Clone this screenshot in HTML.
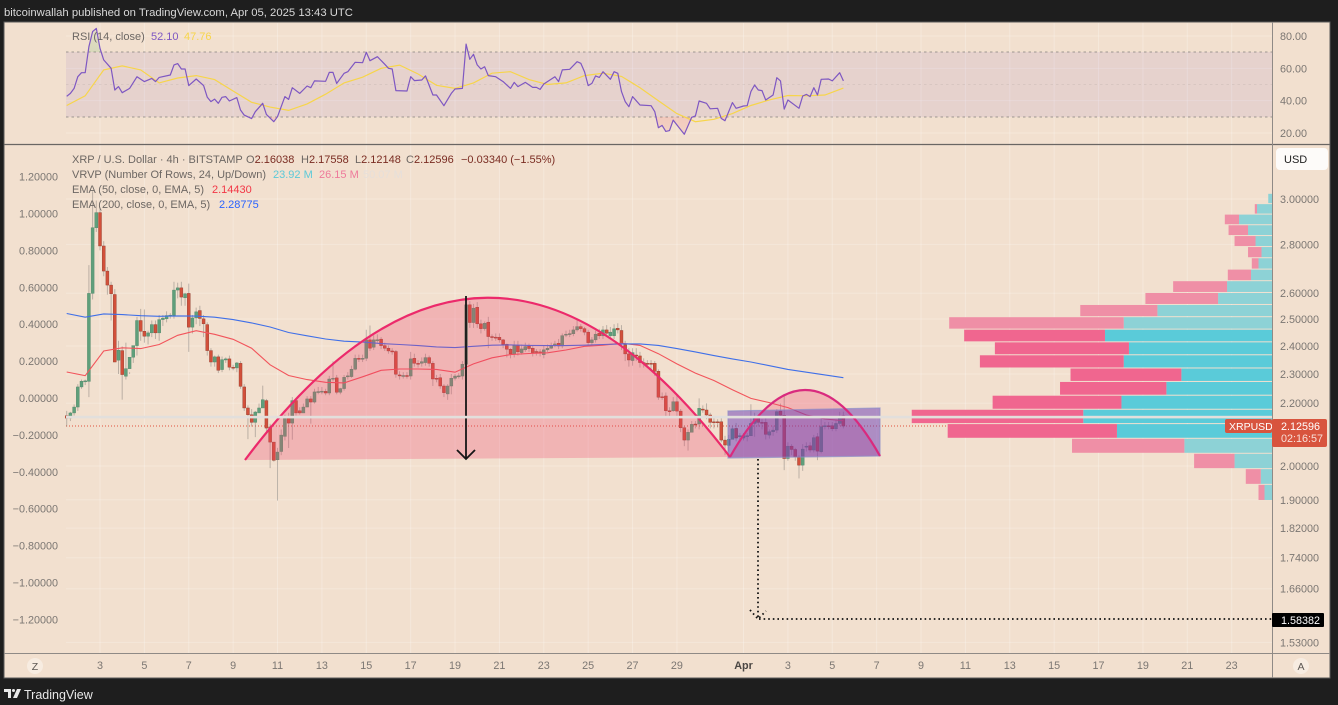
<!DOCTYPE html>
<html lang="en">
<head>
<meta charset="utf-8">
<title>XRP / U.S. Dollar chart</title>
<style>
html,body{margin:0;padding:0;background:#1e1e1e;width:1338px;height:705px;overflow:hidden}
svg{display:block;font-family:"Liberation Sans",sans-serif}
text{white-space:pre}
.lg{font-size:11px;fill:#6d6763}
.ax{font-size:10.8px;fill:#7b7672}
</style>
</head>
<body>
<svg id="root" width="1338" height="705" viewBox="0 0 1338 705" xmlns="http://www.w3.org/2000/svg">
  <defs>
    <clipPath id="clip-main"><rect x="5" y="145" width="1267" height="508"/></clipPath>
    <clipPath id="clip-rsi-top"><rect x="5" y="23" width="1267" height="29"/></clipPath>
    <clipPath id="clip-rsi-bottom"><rect x="5" y="117" width="1267" height="27"/></clipPath>
    <linearGradient id="grad-over" x1="0" y1="0" x2="0" y2="1"><stop offset="0" stop-color="#4caf50" stop-opacity=".08"/><stop offset="1" stop-color="#4caf50" stop-opacity=".4"/></linearGradient>
    <linearGradient id="grad-under" x1="0" y1="0" x2="0" y2="1"><stop offset="0" stop-color="#f23645" stop-opacity=".4"/><stop offset="1" stop-color="#f23645" stop-opacity=".08"/></linearGradient>
  </defs>
  <rect x="0" y="0" width="1338" height="705" fill="#1e1e1e"/>
  <text x="4" y="16" font-size="11.3" fill="#d8d8d8">bitcoinwallah published on TradingView.com, Apr 05, 2025 13:43 UTC</text>
  <rect x="4" y="22" width="1326" height="656" fill="#f2e0cf" stroke="#5a5a5a" stroke-width="1"/>
  <g id="grid"></g>
  <rect x="66" y="52" width="1206" height="65" fill="#7e57c2" fill-opacity=".1"/>
  <line x1="66" x2="1272" y1="52" y2="52" stroke="#8a8480" stroke-opacity=".8" stroke-dasharray="2.5 3"/>
  <line x1="66" x2="1272" y1="84.5" y2="84.5" stroke="#8a8480" stroke-opacity=".15" stroke-dasharray="2.5 3"/>
  <line x1="66" x2="1272" y1="117" y2="117" stroke="#8a8480" stroke-opacity=".8" stroke-dasharray="2.5 3"/>
  <g id="rsi-layer"></g>
  <line x1="4" x2="1330" y1="144.5" y2="144.5" stroke="#6a6663" stroke-width="1.2"/>
  <line x1="66" x2="1272" y1="426" y2="426" stroke="#e0523c" stroke-width="1" stroke-dasharray="1 2"/>
  <g id="vrvp-layer" clip-path="url(#clip-main)"></g>
  <g id="candle-layer" clip-path="url(#clip-main)"></g>
  <g id="ema-layer" clip-path="url(#clip-main)"></g>

  <path d="M245 460 Q487 137 730 457 Z" fill="#f23f6a" fill-opacity=".27"/>
  <path d="M730 457 Q805 323.5 880 456 Z" fill="#f23f6a" fill-opacity=".27"/>
  <polygon points="728,411 880,408 880,456 728,458" fill="#673ab7" fill-opacity=".5" stroke="#8f8fc8" stroke-opacity=".7" stroke-width="1.2"/>
  <path d="M245 460 Q487 137 730 457" fill="none" stroke="#ec2a6b" stroke-width="2.2"/>
  <path d="M730 457 Q805 323.5 880 456" fill="none" stroke="#d92a7e" stroke-width="2.2"/>
  <path d="M466 296V459M457 450L466 459L475 450" fill="none" stroke="#161616" stroke-width="1.8"/>
  <path d="M758 459V619H1272" fill="none" stroke="#111" stroke-width="1.8" stroke-dasharray="1.6 3"/>
  <path d="M750 610L758 619L766 611" fill="none" stroke="#111" stroke-width="1.8" stroke-dasharray="1.6 3"/>
  <rect x="66" y="415.8" width="1206" height="2.6" fill="#e2dfdc"/>

  <g id="axis-layer"></g>
  <line x1="1272.5" x2="1272.5" y1="22" y2="678" stroke="#8f8a86"/>
  <line x1="4" x2="1330" y1="653.5" y2="653.5" stroke="#8f8a86"/>

  <g>
    <text class="lg" x="72" y="40">RSI (14, close)</text>
    <text class="lg" x="151" y="40" style="fill:#7e57c2">52.10</text>
    <text class="lg" x="184" y="40" style="fill:#f7d54a">47.76</text>
  </g>
  <g>
    <text class="lg" x="72" y="163">XRP / U.S. Dollar · 4h · BITSTAMP</text>
    <text class="lg" x="246" y="163">O<tspan fill="#7a2c22">2.16038</tspan></text>
    <text class="lg" x="301" y="163">H<tspan fill="#7a2c22">2.17558</tspan></text>
    <text class="lg" x="355" y="163">L<tspan fill="#7a2c22">2.12148</tspan></text>
    <text class="lg" x="406" y="163">C<tspan fill="#7a2c22">2.12596</tspan></text>
    <text class="lg" x="461" y="163" style="fill:#7a2c22">−0.03340 (−1.55%)</text>
    <text class="lg" x="72" y="178">VRVP (Number Of Rows, 24, Up/Down)</text>
    <text class="lg" x="273" y="178" style="fill:#5cc9d8">23.92 M</text>
    <text class="lg" x="319" y="178" style="fill:#ee7a9b">26.15 M</text>
    <text class="lg" x="363" y="178" style="fill:#e6dfda">50.07 M</text>
    <text class="lg" x="72" y="193">EMA (50, close, 0, EMA, 5)</text>
    <text class="lg" x="212" y="193" style="fill:#f23645">2.14430</text>
    <text class="lg" x="72" y="208">EMA (200, close, 0, EMA, 5)</text>
    <text class="lg" x="219" y="208" style="fill:#2962ff">2.28775</text>
  </g>

  <g>
    <rect x="1276" y="148" width="52" height="22" rx="4" fill="#fdfbf9"/>
    <text x="1284" y="163" font-size="11" fill="#222">USD</text>
  </g>
  <g>
    <rect x="1225" y="419" width="47" height="14" rx="2" fill="#d8543e"/>
    <text x="1229" y="430" font-size="10.5" fill="#fff">XRPUSD</text>
    <rect x="1272" y="419" width="55" height="28" rx="2" fill="#d8543e"/>
    <text x="1281" y="430" font-size="10.8" fill="#fff">2.12596</text>
    <text x="1281" y="442" font-size="10.8" fill="#f8dfd8">02:16:57</text>
  </g>
  <g>
    <rect x="1272" y="613" width="52" height="14" rx="1" fill="#000"/>
    <text x="1281" y="624" font-size="10.8" fill="#fff">1.58382</text>
  </g>
  <g>
    <circle cx="35" cy="666" r="8" fill="#f7ece1"/>
    <text x="35" y="670" font-size="10.5" text-anchor="middle" fill="#5c5753">Z</text>
  </g>
  <g>
    <circle cx="1301" cy="666" r="8" fill="#f7ece1"/>
    <text x="1301" y="670" font-size="10.5" text-anchor="middle" fill="#5c5753">A</text>
  </g>
  <g>
    <path d="M4 689h7v9h-3v-6H4zM17 689h4l-4 9h-4z" fill="#e8e8e8"/>
    <circle cx="13.5" cy="690.5" r="1.5" fill="#e8e8e8"/>
    <text x="24" y="699" font-size="12.5" font-weight="400" fill="#e8e8e8">TradingView</text>
  </g>
</svg>
<script>
// Candle values on the left axis scale, multiplied by 1000.
const opens=[-96,-109,-81,-49,60,91,90,567,923,1005,
824,688,612,561,205,257,118,159,221,284,
420,362,335,353,398,353,425,429,447,447,
585,597,543,567,384,434,474,429,398,257,
195,223,154,206,212,167,163,188,60,-54,
-91,-132,-81,-54,-14,-157,-239,-335,-290,-208,
-109,-136,-14,-69,-81,-49,-5,-22,33,36,
36,27,105,109,31,51,118,116,156,215,
213,215,315,275,315,319,284,270,255,252,
125,121,122,119,215,188,188,192,219,188,
107,110,65,22,65,107,119,119,183,505,
409,492,402,376,411,333,330,329,315,291,
264,237,284,246,261,282,270,252,250,235,
261,270,284,297,282,344,347,348,369,387,
376,357,300,315,351,337,369,338,337,378,
366,288,239,203,233,228,192,188,188,188,
145,7,11,-69,-69,-20,-71,-161,-228,-186,
-141,-141,-60,-65,-92,-129,-129,-129,-228,-257,
-224,-165,-205,-217,-205,-205,-138,-105,-132,-132,
-201,-183,-174,-71,-94,-328,-261,-279,-319,-364,
-266,-259,-282,-210,-291,-156,-150,-150,-167,-138,-96];
const closes=[-109,-81,-49,60,91,93,567,923,1005,824,
688,612,565,195,259,127,159,221,284,420,
362,335,353,398,353,425,433,447,449,585,
597,547,565,384,434,467,431,402,257,195,
223,150,208,212,167,165,190,63,-54,-91,
-132,-76,-54,-9,-163,-239,-338,-293,-201,-109,
-136,-14,-81,-81,-49,-5,-22,33,35,37,
27,103,107,31,51,112,120,156,215,212,
215,315,270,315,316,284,270,255,250,129,
121,122,121,212,188,183,197,219,188,103,
105,65,29,65,107,119,120,183,505,409,
487,402,376,405,333,332,329,315,291,264,
239,284,250,266,279,268,246,250,248,261,
270,284,293,282,338,346,349,369,387,376,
357,300,315,346,337,369,351,357,375,369,
291,239,206,246,228,192,190,187,186,145,
4,6,-69,-70,-20,-71,-161,-228,-186,-143,
-143,-56,-65,-92,-132,-132,-134,-228,-255,-224,
-167,-217,-204,-205,-204,-138,-105,-132,-133,-197,
-183,-174,-74,-94,-328,-261,-279,-319,-364,-277,
-261,-282,-215,-288,-156,-150,-151,-167,-138,-105,-152];
const highs=[-70,-75,-35,75,100,100,720,1120,1070,1030,
850,710,630,590,310,280,300,140,240,440,
483,480,365,420,420,450,450,470,460,630,
625,630,570,620,450,490,500,450,410,270,
230,235,225,220,230,180,195,200,75,-40,
-60,-70,-30,67,-5,-140,-290,-270,-170,-90,
-80,5,-5,-50,-30,10,10,50,60,60,
50,120,199,125,55,125,140,175,235,235,
235,370,393,340,345,330,300,285,270,260,
145,140,140,250,240,205,220,240,230,200,
125,130,75,75,130,130,135,200,510,525,
510,520,425,415,440,345,350,350,320,295,
270,310,310,290,300,295,285,265,265,285,
290,300,310,320,350,365,370,390,429,400,
385,370,330,365,375,390,395,385,400,405,
395,310,270,270,270,250,215,205,205,200,
155,30,30,-50,5,10,-60,-150,-170,-125,
-125,-2,-40,-29,-80,-110,-115,-105,-205,-200,
-150,-135,-190,-190,-190,-34,-80,-115,-115,-110,
-170,-150,-60,-30,22,-240,-250,-270,-310,-250,
-240,-240,-200,-190,-101,-130,-130,-130,-120,-75,-74];
const lows=[-155,-125,-95,-70,50,70,5,534,900,800,
660,560,420,470,130,-9,100,130,190,230,
310,300,290,330,320,310,390,410,430,430,
540,500,500,250,350,400,390,330,230,170,
170,135,140,190,150,150,140,50,-70,-223,
-155,-212,-75,-30,-180,-380,-345,-556,-310,-230,
-271,-226,-95,-90,-70,-40,-139,-30,20,20,
15,15,90,20,20,40,100,110,150,195,
195,200,255,260,300,265,255,240,235,110,
100,105,105,100,170,165,170,175,170,65,
85,50,5,-10,20,95,105,100,170,380,
380,380,350,365,270,310,310,300,270,220,
215,220,230,235,250,250,225,230,225,215,
250,265,275,265,270,330,330,335,360,360,
340,280,290,300,320,320,330,320,320,350,
260,200,170,175,200,165,165,165,150,120,
-10,-10,-100,-100,-75,-105,-185,-261,-285,-165,
-165,-170,-80,-115,-165,-165,-160,-240,-310,-290,
-190,-235,-240,-230,-235,-155,-210,-155,-170,-225,
-220,-205,-190,-100,-391,-340,-310,-340,-436,-395,
-290,-295,-295,-337,-300,-170,-170,-180,-180,-150,-165];
// EMA readings, one value for every fifth candle.
const ema50=[141,121,255,272,268,290,340,365,345,318,270,180,122,100,85,82,115,150,157,157,155,140,185,218,235,241,245,260,280,286,297,285,240,185,135,95,45,-2,-25,-52,-92,-114,-123];
const ema200=[458,438,456,452,446,443,445,444,438,425,407,385,355,337,320,308,303,295,290,284,277,273,280,286,288,285,284,284,286,290,293,293,285,268,250,230,212,195,175,155,140,125,110];
const emaCandleStep=5;
// RSI: candle numbers and matching readings.
const rsiCandles=[0,1,2,3,4,5,6,7,8,9,10,12,13,14,15,17,19,21,23,24,25,28,29,30,31,32,33,35,37,38,39,40,41,42,43,44,46,47,48,50,51,53,54,56,57,59,60,61,63,65,66,67,70,71,72,73,75,76,78,80,81,82,84,86,87,88,89,92,93,94,96,97,99,100,102,104,105,107,108,109,110,111,112,113,114,116,118,120,121,122,124,126,127,128,129,132,133,134,136,138,139,140,141,142,143,144,145,147,148,149,150,151,152,153,155,158,159,160,161,162,163,164,165,167,169,170,171,173,174,176,177,178,180,181,183,184,185,186,187,188,189,191,192,193,194,195,198,199,200,201,202,203,204,206,207,209,210];
const rsiValues=[42.7,44.5,47.6,54.8,57.3,57.3,73.4,82.7,84.7,72.4,65.2,60,46.6,48.7,44.9,47.6,54.8,51.8,53.8,51.8,54.4,55.9,62.1,62.9,59.6,59.6,49.3,53.4,49.3,42.1,39.4,41,38.4,42.1,42.5,39.8,41.9,34.2,31.1,28.9,33.2,38.4,31.5,27,30.1,42.5,40.8,48,44.5,49.1,48,52.2,52,57.5,57.5,50.7,56.9,57.9,63.7,63.5,69.9,64.7,67.2,62.5,60,59.6,46.2,46,54.8,52.4,52.8,55.3,43.5,43.5,36.9,44.5,47.2,47.6,75,65.6,68.7,62.1,59.6,61,55.5,54.8,51.8,47.6,51.3,48.7,51.3,48.2,48.2,47,50.3,54.8,51.8,59,59.4,64.1,63.1,57.9,49.3,50.7,55.3,54.4,57.9,53.2,57.9,56.9,45.6,39.4,36.3,42.5,37.3,36.9,33.2,23.3,24.7,21,21.5,28,25,19.2,29.7,30.5,39.8,38.4,35,35.3,29,27.6,38.8,35.3,36.7,36.9,45.6,49.7,46.6,46.2,40.4,43.5,54.2,52.2,34.8,40.4,35.3,42.9,43.9,42.5,48,43.5,53.2,53.4,52.2,57.3,52.2];
const rsiMaValues=[37,43,59,61.5,59,51,54,55.5,53,46,39,36,34,38,44,51,54.5,60,62,56.5,49.5,47.6,51,57,57.9,53,50,51,55.5,57,55,48,40,32,27,28.5,32,37,40.5,43.2,43,43.5,47.8];
// Volume profile, top row first, in millions.
const upVolumes=[.05,.20,.44,.32,.22,.14,.18,.28,.60,.72,1.53,1.98,2.23,1.91,1.98,1.21,1.41,2.01,2.52,2.07,1.17,.50,.15,.10];
const downVolumes=[0,.03,.19,.26,.28,.18,.09,.31,.72,.97,1.03,2.33,1.88,1.79,1.92,1.48,1.42,1.72,2.29,2.26,1.50,.54,.20,.08];
const profileTopPrice=3.026;
const profileRowStep=0.047;
// Tick labels.
const leftTicks=[1.2,1,.8,.6,.4,.2,0,-.2,-.4,-.6,-.8,-1,-1.2];
const priceTicks=[3,2.8,2.6,2.5,2.4,2.3,2.2,2,1.9,1.82,1.74,1.66,1.53];
const rsiTicks=[80,60,40,20];
const dayTicks=[3,5,7,9,11,13,15,17,19,21,23,25,27,29,32,34,36,38,40,42,44,46,48,50,52,54];
const dayLabels=['3','5','7','9','11','13','15','17','19','21','23','25','27','29','Apr','3','5','7','9','11','13','15','17','19','21','23'];

const NS='http://www.w3.org/2000/svg';
const FIRST_DAY=1.5,CANDLES_PER_DAY=6;
function dayX(d){return 100+(d-3)*22.19;}
function candleX(i){return dayX(FIRST_DAY+i/CANDLES_PER_DAY);}
function leftY(v){return 398-v*184.5;}
function milliY(m){return leftY(m/1000);}
function priceY(p){return 466-658.5*Math.log(p/2);}
function rsiY(r){return 84.5-(r-50)*1.617;}
function volW(m){return m*74.9;}
function mk(tag,attrs,parent){
  const el=document.createElementNS(NS,tag);
  for(const k in attrs){el.setAttribute(k,attrs[k]);}
  parent.appendChild(el);
  return el;
}
const gridLayer=document.getElementById('grid');
const axisLayer=document.getElementById('axis-layer');
const rsiLayer=document.getElementById('rsi-layer');
const vrvpLayer=document.getElementById('vrvp-layer');
const candleLayer=document.getElementById('candle-layer');
const emaLayer=document.getElementById('ema-layer');

dayTicks.forEach(function(d,i){
  const gx=dayX(d);
  const v=mk('line',{x1:gx,x2:gx,y1:23,y2:653,stroke:'#fff','stroke-opacity':.26},gridLayer);
  
  
  const t=mk('text',{x:gx,y:669,'text-anchor':'middle','font-size':10.8,fill:dayLabels[i]==='Apr'?'#4a4643':'#7b7672','font-weight':dayLabels[i]==='Apr'?700:400},axisLayer);
  t.textContent=dayLabels[i];
  
  
});
priceTicks.forEach(function(p){
  const gy=priceY(p);
  const h=mk('line',{x1:66,x2:1272,y1:gy,y2:gy,stroke:'#fff','stroke-opacity':.22},gridLayer);
  
  
  const t=mk('text',{x:1280,y:gy+4,class:'ax'},axisLayer);
  t.textContent=p.toFixed(5);
  
  
});
leftTicks.forEach(function(v){
  const t=mk('text',{x:58,y:leftY(v)+4,'text-anchor':'end',class:'ax'},axisLayer);
  t.textContent=(v<0?'−':'')+Math.abs(v).toFixed(5);
  
  
});
rsiTicks.forEach(function(r){
  const ry=rsiY(r);
  const h=mk('line',{x1:66,x2:1272,y1:ry,y2:ry,stroke:'#fff','stroke-opacity':.22},gridLayer);
  
  
  const t=mk('text',{x:1280,y:ry+4,class:'ax'},axisLayer);
  t.textContent=r.toFixed(2);
  
  
});

// RSI pane
const rsiPts=rsiCandles.map(function(c,i){return candleX(c).toFixed(1)+','+rsiY(rsiValues[i]).toFixed(1);});
const firstRsiX=candleX(rsiCandles[0]).toFixed(1);
const lastRsiX=candleX(rsiCandles[rsiCandles.length-1]).toFixed(1);
const overFill=mk('path',{d:'M'+firstRsiX+',52 L'+rsiPts.join(' L')+' L'+lastRsiX+',52 Z',fill:'url(#grad-over)','clip-path':'url(#clip-rsi-top)'},rsiLayer);


const underFill=mk('path',{d:'M'+firstRsiX+',117 L'+rsiPts.join(' L')+' L'+lastRsiX+',117 Z',fill:'url(#grad-under)','clip-path':'url(#clip-rsi-bottom)'},rsiLayer);


const maPts=rsiMaValues.map(function(r,i){return candleX(i*emaCandleStep).toFixed(1)+','+rsiY(r).toFixed(1);});
const rsiMa=mk('polyline',{points:maPts.join(' '),fill:'none',stroke:'#f7d54a','stroke-width':1.2},rsiLayer);


const rsiLine=mk('polyline',{points:rsiPts.join(' '),fill:'none',stroke:'#7e57c2','stroke-width':1.2,'stroke-linejoin':'round'},rsiLayer);



// Volume profile
upVolumes.forEach(function(up,k){
  const down=downVolumes[k];
  const hi=profileTopPrice-k*profileRowStep;
  const lo=hi-profileRowStep;
  const ty=priceY(hi)+.5;
  const rh=priceY(lo)-priceY(hi)-1;
  const inValueArea=k>=12&&k<=19;
  const upW=volW(up);
  const downW=volW(down);
  const upBar=mk('rect',{x:1272-upW,y:ty,width:upW,height:rh,fill:inValueArea?'#5acbd9':'#8dd2d6'},vrvpLayer);
  
  
  const downBar=mk('rect',{x:1272-upW-downW,y:ty,width:downW,height:rh,fill:inValueArea?'#f0668f':'#ef8fa6'},vrvpLayer);
  
  
});

// Candles
closes.forEach(function(c,i){
  const o=opens[i];
  const up=c>=o;
  const cx=candleX(i);
  const wick=mk('line',{x1:cx,x2:cx,y1:milliY(highs[i]),y2:milliY(lows[i]),stroke:'#77736f','stroke-opacity':.45,'stroke-width':1},candleLayer);
  
  
  const top=milliY(Math.max(o,c));
  const bh=Math.max(1,Math.abs(milliY(o)-milliY(c)));
  const body=mk('rect',{x:cx-1.5,y:top,width:3,height:bh,fill:up?'#5f9f7b':'#d2503a',stroke:up?'#4f8568':'#8f3a2c','stroke-width':.4},candleLayer);
  
  
});

// EMA lines
const ema50Pts=ema50.map(function(v,i){return candleX(i*emaCandleStep).toFixed(1)+','+milliY(v).toFixed(1);});
const ema50Line=mk('polyline',{points:ema50Pts.join(' '),fill:'none',stroke:'#f2545b','stroke-width':1.1},emaLayer);


const ema200Pts=ema200.map(function(v,i){return candleX(i*emaCandleStep).toFixed(1)+','+milliY(v).toFixed(1);});
const ema200Line=mk('polyline',{points:ema200Pts.join(' '),fill:'none',stroke:'#3f6fe8','stroke-width':1.1},emaLayer);


</script>
</body>
</html>
